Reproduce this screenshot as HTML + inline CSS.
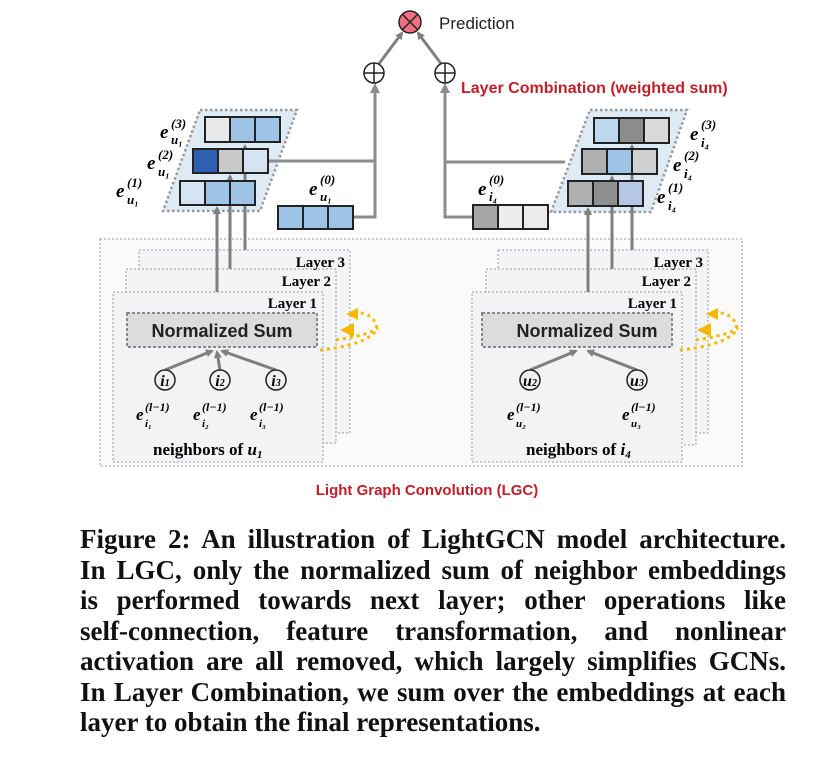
<!DOCTYPE html>
<html><head><meta charset="utf-8"><style>
body{margin:0;background:#fff;width:823px;height:758px;overflow:hidden;position:relative;font-family:"Liberation Serif",serif}
.cap{position:absolute;left:80px;width:706px;font-weight:bold;font-size:27px;line-height:30px;white-space:nowrap;text-align:justify;text-align-last:justify;color:#111}
.last{text-align-last:left}
</style></head><body>
<svg width="823" height="758" style="position:absolute;left:0;top:0" font-family="Liberation Serif,serif">
<defs>
<marker id="ah" markerWidth="8" markerHeight="8" refX="6" refY="4" orient="auto" markerUnits="userSpaceOnUse"><path d="M0,0 L8,4 L0,8 z" fill="#7f7f7f"/></marker>
<marker id="ay" markerWidth="10" markerHeight="10" refX="6" refY="5" orient="auto" markerUnits="userSpaceOnUse"><path d="M0,0 L10,5 L0,10 z" fill="#f5b800"/></marker>
</defs>
<rect x="100" y="239" width="642" height="227" fill="#fafafa" stroke="#999" stroke-dasharray="2,2"/>
<rect x="139" y="250" width="211" height="183" fill="#f3f4f6" stroke="#999" stroke-dasharray="2,2"/>
<rect x="126" y="269" width="210" height="174" fill="#f3f4f6" stroke="#999" stroke-dasharray="2,2"/>
<rect x="113" y="292" width="210" height="170" fill="#f2f3f5" stroke="#999" stroke-dasharray="2,2"/>
<rect x="127" y="313" width="190" height="34" fill="#dcdcdc" stroke="#888" stroke-width="2" stroke-dasharray="3,2"/>
<text x="222" y="337" text-anchor="middle" font-family="Liberation Sans,sans-serif" font-weight="bold" font-size="18" fill="#222">Normalized Sum</text>
<text x="345" y="267" text-anchor="end" font-weight="bold" font-size="15">Layer 3</text>
<text x="331" y="286" text-anchor="end" font-weight="bold" font-size="15">Layer 2</text>
<text x="317" y="308" text-anchor="end" font-weight="bold" font-size="15">Layer 1</text>
<rect x="498" y="250" width="210" height="183" fill="#f3f4f6" stroke="#999" stroke-dasharray="2,2"/>
<rect x="486" y="269" width="210" height="176" fill="#f3f4f6" stroke="#999" stroke-dasharray="2,2"/>
<rect x="472" y="292" width="210" height="170" fill="#f2f3f5" stroke="#999" stroke-dasharray="2,2"/>
<rect x="482" y="313" width="190" height="34" fill="#dcdcdc" stroke="#888" stroke-width="2" stroke-dasharray="3,2"/>
<text x="587" y="337" text-anchor="middle" font-family="Liberation Sans,sans-serif" font-weight="bold" font-size="18" fill="#222">Normalized Sum</text>
<text x="703" y="267" text-anchor="end" font-weight="bold" font-size="15">Layer 3</text>
<text x="691" y="286" text-anchor="end" font-weight="bold" font-size="15">Layer 2</text>
<text x="677" y="308" text-anchor="end" font-weight="bold" font-size="15">Layer 1</text>
<g stroke="#7f7f7f" stroke-width="3" fill="none" marker-end="url(#ah)">
<line x1="165" y1="370" x2="212" y2="351"/><line x1="220" y1="370" x2="217" y2="352"/><line x1="276" y1="370" x2="222" y2="351"/>
<line x1="530" y1="370" x2="576" y2="351"/><line x1="637" y1="370" x2="588" y2="351"/>
</g>
<g fill="#f0f0f0" stroke="#222" stroke-width="1.5">
<circle cx="165" cy="380" r="10"/><circle cx="220" cy="380" r="10"/><circle cx="276" cy="380" r="10"/>
<circle cx="530" cy="380" r="10"/><circle cx="637" cy="380" r="10"/>
</g>
<g font-style="italic" font-weight="bold" font-size="16" text-anchor="middle">
<text x="165" y="386">i<tspan font-size="10">1</tspan></text><text x="220" y="386">i<tspan font-size="10">2</tspan></text><text x="276" y="386">i<tspan font-size="10">3</tspan></text>
<text x="530" y="386">u<tspan font-size="10">2</tspan></text><text x="637" y="386">u<tspan font-size="10">3</tspan></text>
</g>
<g font-style="italic" font-weight="bold" font-size="17">
<text x="136" y="420">e</text><text x="145" y="411" font-size="12">(l−1)</text><text x="145" y="427" font-size="11">i₁</text>
<text x="193" y="420">e</text><text x="202" y="411" font-size="12">(l−1)</text><text x="202" y="427" font-size="11">i₂</text>
<text x="250" y="420">e</text><text x="259" y="411" font-size="12">(l−1)</text><text x="259" y="427" font-size="11">i₃</text>
<text x="507" y="420">e</text><text x="516" y="411" font-size="12">(l−1)</text><text x="516" y="427" font-size="11">u₂</text>
<text x="622" y="420">e</text><text x="631" y="411" font-size="12">(l−1)</text><text x="631" y="427" font-size="11">u₃</text>
</g>
<text x="153" y="455" font-weight="bold" font-size="17">neighbors of <tspan font-style="italic">u</tspan><tspan font-size="11" font-style="italic" dy="3">1</tspan></text>
<text x="526" y="455" font-weight="bold" font-size="17">neighbors of <tspan font-style="italic">i</tspan><tspan font-size="11" font-style="italic" dy="3">4</tspan></text>
<g stroke="#f5b800" stroke-width="3" fill="none" stroke-dasharray="3,4">
<path d="M320,350 C345,348 385,338 375,322 C370,314 362,312 354,313"/>
<path d="M336,340 C350,338 370,334 378,328"/>
<path d="M680,350 C705,348 745,338 735,322 C730,314 722,312 714,313"/>
<path d="M696,340 C710,338 730,334 738,328"/>
</g>
<path d="M346,314 L358,308 L358,320z M340,330 L354,323 L354,337z" fill="#f5b800"/>
<path d="M706,314 L718,308 L718,320z M697,330 L711,323 L711,337z" fill="#f5b800"/>
<polygon points="200,110 297,110 260,211 163,211" fill="#deebf5" stroke="#999" stroke-width="2.5" stroke-dasharray="2.5,2.5"/>
<polygon points="590,110 687,110 651,212 551,212" fill="#deebf5" stroke="#999" stroke-dasharray="2.5,2.5" stroke-width="2.5"/>
<g stroke="#7f7f7f" stroke-width="3" fill="none" marker-end="url(#ah)">
<line x1="217" y1="292" x2="217" y2="208"/><line x1="230" y1="269" x2="230" y2="176"/><line x1="245" y1="250" x2="245" y2="146"/>
<line x1="588" y1="292" x2="588" y2="209"/><line x1="612" y1="269" x2="612" y2="177"/><line x1="632" y1="250" x2="632" y2="146"/>
</g>
<g stroke="#8c8c8c" stroke-width="3" fill="none">
<polyline points="353,217 375,217 375,86"/><polyline points="268,161 375,161"/>
<polyline points="473,217 445,217 445,86"/><polyline points="445,162 565,162"/>
</g>
<path d="M375,83 l-5,10 l10,0z M445,83 l-5,10 l10,0z" fill="#8c8c8c"/>
<g stroke="#7f7f7f" stroke-width="3" marker-end="url(#ah)"><line x1="378" y1="65" x2="402" y2="33"/><line x1="442" y1="65" x2="418" y2="33"/></g>
<g stroke="#222" stroke-width="2">
<rect x="205" y="117" width="25" height="25" fill="#e9e9e9"/><rect x="230" y="117" width="25" height="25" fill="#9dc3e6"/><rect x="255" y="117" width="25" height="25" fill="#9dc3e6"/>
<rect x="193" y="149" width="25" height="24" fill="#2f5fb0"/><rect x="218" y="149" width="25" height="24" fill="#c9c9c9"/><rect x="243" y="149" width="25" height="24" fill="#d5e3f3"/>
<rect x="180" y="181" width="25" height="24" fill="#d5e3f3"/><rect x="205" y="181" width="25" height="24" fill="#9dc3e6"/><rect x="230" y="181" width="25" height="24" fill="#9dc3e6"/>
<rect x="278" y="206" width="25" height="23" fill="#9dc3e6"/><rect x="303" y="206" width="25" height="23" fill="#9dc3e6"/><rect x="328" y="206" width="25" height="23" fill="#9dc3e6"/>
<rect x="594" y="118" width="25" height="25" fill="#bdd7ee"/><rect x="619" y="118" width="25" height="25" fill="#8c8c8c"/><rect x="644" y="118" width="25" height="25" fill="#d9d9d9"/>
<rect x="582" y="149" width="25" height="25" fill="#b0b0b0"/><rect x="607" y="149" width="25" height="25" fill="#9dc3e6"/><rect x="632" y="149" width="25" height="25" fill="#d0d0d0"/>
<rect x="568" y="181" width="25" height="25" fill="#b0b0b0"/><rect x="593" y="181" width="25" height="25" fill="#8f8f8f"/><rect x="618" y="181" width="25" height="25" fill="#b4c7e7"/>
<rect x="473" y="205" width="25" height="24" fill="#a6a6a6"/><rect x="498" y="205" width="25" height="24" fill="#ececec"/><rect x="523" y="205" width="25" height="24" fill="#ececec"/>
</g>
<g font-style="italic" font-weight="bold" font-size="19">
<text x="160" y="138">e</text><text x="171" y="128" font-size="13">(3)</text><text x="171" y="144" font-size="13">u₁</text>
<text x="147" y="169">e</text><text x="158" y="159" font-size="13">(2)</text><text x="158" y="176" font-size="13">u₁</text>
<text x="116" y="197">e</text><text x="127" y="187" font-size="13">(1)</text><text x="127" y="204" font-size="13">u₁</text>
<text x="309" y="195">e</text><text x="320" y="184" font-size="13">(0)</text><text x="320" y="201" font-size="13">u₁</text>
<text x="478" y="195">e</text><text x="489" y="184" font-size="13">(0)</text><text x="489" y="201" font-size="13">i₄</text>
<text x="690" y="140">e</text><text x="701" y="129" font-size="13">(3)</text><text x="701" y="147" font-size="13">i₄</text>
<text x="673" y="171">e</text><text x="684" y="160" font-size="13">(2)</text><text x="684" y="178" font-size="13">i₄</text>
<text x="657" y="203">e</text><text x="668" y="192" font-size="13">(1)</text><text x="668" y="210" font-size="13">i₄</text>
</g>
<g stroke="#222" stroke-width="1.5" fill="#fff">
<circle cx="374" cy="73" r="10"/><line x1="364" y1="73" x2="384" y2="73"/><line x1="374" y1="63" x2="374" y2="83"/>
<circle cx="445" cy="73" r="10"/><line x1="435" y1="73" x2="455" y2="73"/><line x1="445" y1="63" x2="445" y2="83"/>
<circle cx="410" cy="22" r="11" fill="#f07080"/><line x1="402" y1="14" x2="418" y2="30"/><line x1="418" y1="14" x2="402" y2="30"/>
</g>
<text x="439" y="29" font-family="Liberation Sans,sans-serif" font-size="17" fill="#222">Prediction</text>
<text x="461" y="93" font-family="Liberation Sans,sans-serif" font-weight="bold" font-size="16" fill="#c0202a">Layer Combination (weighted sum)</text>
<text x="427" y="495" text-anchor="middle" font-family="Liberation Sans,sans-serif" font-weight="bold" font-size="15" fill="#c0202a">Light Graph Convolution (LGC)</text>
</svg>
<div class="cap" style="top:524px">Figure 2: An illustration of LightGCN model architecture.</div>
<div class="cap" style="top:555px">In LGC, only the normalized sum of neighbor embeddings</div>
<div class="cap" style="top:585px">is performed towards next layer; other operations like</div>
<div class="cap" style="top:616px">self-connection, feature transformation, and nonlinear</div>
<div class="cap" style="top:646px">activation are all removed, which largely simplifies GCNs.</div>
<div class="cap" style="top:677px">In Layer Combination, we sum over the embeddings at each</div>
<div class="cap last" style="top:707px">layer to obtain the final representations.</div>
</body></html>
